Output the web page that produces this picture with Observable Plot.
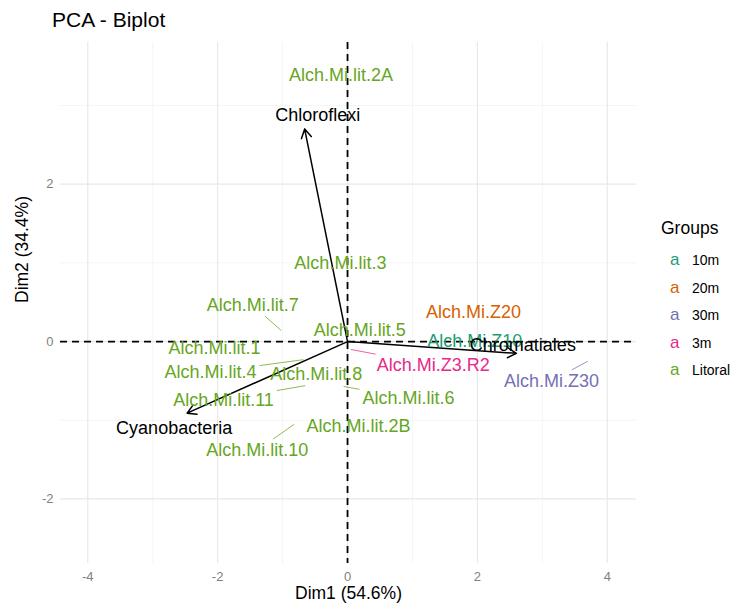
<!DOCTYPE html>
<html>
<head>
<meta charset="utf-8">
<script src="https://cdn.jsdelivr.net/npm/d3@7"></script>
<script src="https://cdn.jsdelivr.net/npm/@observablehq/plot@0.6"></script>
<style>
  body { margin: 0; background: #fff; font-family: "Liberation Sans", Arial, sans-serif; }
  #wrap { position: relative; width: 732px; height: 608px; overflow: hidden; }
  #title { height: 40px; line-height: 40px; padding-left: 52px; font-size: 21px; color: #000; box-sizing: border-box; }
  .leg { position: absolute; white-space: nowrap; transform: translateY(-50%); }
</style>
</head>
<body>
<div id="wrap">
  <div id="title">PCA - Biplot</div>
  <div id="chart"></div>
</div>
<script>
// ---- data ----
const samples = ["Alch.Mi.lit.2A","Alch.Mi.lit.3","Alch.Mi.lit.7","Alch.Mi.lit.5","Alch.Mi.lit.1","Alch.Mi.lit.4","Alch.Mi.lit.8","Alch.Mi.lit.11","Alch.Mi.lit.6","Alch.Mi.lit.2B","Alch.Mi.lit.10","Alch.Mi.Z20","Alch.Mi.Z10","Alch.Mi.Z3.R2","Alch.Mi.Z30"];
const sampleGroup = ["Litoral","Litoral","Litoral","Litoral","Litoral","Litoral","Litoral","Litoral","Litoral","Litoral","Litoral","20m","10m","3m","30m"];
const dim1 = [-0.10,-0.11,-1.02,0.19,-2.05,-0.68,-0.48,-0.65,-0.06,0.17,-0.82,1.94,1.17,0.05,3.70];
const dim2 = [3.39,1.00,0.14,0.15,-0.09,-0.23,-0.41,-0.56,-0.57,-1.07,-1.05,0.37,-0.10,-0.10,-0.25];
const labelDim1 = [-0.10,-0.11,-1.46,0.19,-2.05,-2.11,-0.48,-1.91,0.94,0.17,-1.39,1.94,1.96,1.32,3.14];
const labelDim2 = [3.39,1.00,0.46,0.15,-0.09,-0.39,-0.41,-0.74,-0.72,-1.07,-1.38,0.37,0.01,-0.30,-0.50];

const variables = ["Chloroflexi","Cyanobacteria","Chromatiales"];
const varDim1 = [-0.66,-2.47,2.60];
const varDim2 = [2.70,-0.91,-0.15];
const varLabelDim1 = [-0.46,-2.67,2.70];
const varLabelDim2 = [2.87,-1.10,-0.05];

const groupNames = ["10m","20m","30m","3m","Litoral"];
const groupColors = ["#1B9E77","#D95F02","#7570B3","#E7298A","#66A61E"];

const xTicks = [-4,-2,0,2,4];
const xMinor = [-3,-1,1,3];
const yTicks = [-2,0,2];
const yMinor = [-1,1,3];
const xTitle = "Dim1 (54.6%)";
const yTitle = "Dim2 (34.4%)";
const legendTitle = "Groups";

// ---- layout ----
const W = 732, H = 568;
const mL = 60, mR = 96, mT = 2, mB = 45;
const xDomain = [-4.42, 4.45];
const yDomain = [-2.82, 3.80];
const kx = (W - mL - mR) / (xDomain[1] - xDomain[0]);
const ky = (H - mT - mB) / (yDomain[1] - yDomain[0]);
const labelFont = "18px 'Liberation Sans'";
const fmt = d => String(d);

const ctx = document.createElement("canvas").getContext("2d");
ctx.font = labelFont;

const rows = samples.map((s, i) => ({name: s, group: sampleGroup[i], x: dim1[i], y: dim2[i], lx: labelDim1[i], ly: labelDim2[i]}));

// ggrepel-like segments from label box edge to point
const segs = [];
rows.forEach(r => {
  const hw = ctx.measureText(r.name).width / 2 + 3;
  const hh = 11;
  const dxp = (r.x - r.lx) * kx, dyp = (r.y - r.ly) * ky;
  const len = Math.hypot(dxp, dyp);
  if (len === 0) return;
  const t = Math.min(dxp === 0 ? Infinity : hw / Math.abs(dxp), dyp === 0 ? Infinity : hh / Math.abs(dyp));
  if (t < 1 && (1 - t) * len > 5) {
    segs.push({group: r.group, x1: r.lx + t * (r.x - r.lx), y1: r.ly + t * (r.y - r.ly), x2: r.x, y2: r.y});
  }
});

const vars = variables.map((v, i) => ({name: v, x: varDim1[i], y: varDim2[i], lx: varLabelDim1[i], ly: varLabelDim2[i]}));

const chart = Plot.plot({
  width: W, height: H,
  marginLeft: mL, marginRight: mR, marginTop: mT, marginBottom: mB,
  style: {fontFamily: "'Liberation Sans', Arial, sans-serif", background: "#fff"},
  x: {domain: xDomain},
  y: {domain: yDomain},
  color: {domain: groupNames, range: groupColors},
  marks: [
    Plot.gridX(xMinor, {stroke: "#f2f2f2", strokeOpacity: 1, strokeWidth: 0.8}),
    Plot.gridY(yMinor, {stroke: "#f2f2f2", strokeOpacity: 1, strokeWidth: 0.8}),
    Plot.gridX(xTicks, {stroke: "#e8e8e8", strokeOpacity: 1, strokeWidth: 1.2}),
    Plot.gridY(yTicks, {stroke: "#e8e8e8", strokeOpacity: 1, strokeWidth: 1.2}),
    Plot.axisX(xTicks, {tickSize: 0, tickPadding: 8, fontSize: 13, fill: "#7f7f7f", label: null, tickFormat: fmt}),
    Plot.axisY(yTicks, {tickSize: 0, tickPadding: 7, fontSize: 13, fill: "#7f7f7f", label: null, tickFormat: fmt}),
    Plot.text([xTitle], {frameAnchor: "bottom", dy: 35, fontSize: 17.5, fill: "#000"}),
    Plot.text([yTitle], {frameAnchor: "left", dx: -38, rotate: -90, fontSize: 17.5, fill: "#000"}),
    Plot.ruleX([0], {stroke: "#000", strokeWidth: 1.8, strokeDasharray: "7,5"}),
    Plot.ruleY([0], {stroke: "#000", strokeWidth: 1.8, strokeDasharray: "7,5"}),
    Plot.link(segs, {x1: "x1", y1: "y1", x2: "x2", y2: "y2", stroke: "group", strokeWidth: 1, strokeOpacity: 0.75}),
    Plot.arrow(vars, {x1: () => 0, y1: () => 0, x2: "x", y2: "y", stroke: "#000", strokeWidth: 1.5, headLength: 10, headAngle: 60}),
    Plot.text(rows, {x: "lx", y: "ly", text: "name", fill: "group", fontSize: 18}),
    Plot.text(vars, {x: "lx", y: "ly", text: "name", fill: "#000", fontSize: 18})
  ]
});
document.getElementById("chart").appendChild(chart);

// ---- legend (HTML) ----
const wrap = document.getElementById("wrap");
const lt = document.createElement("div");
lt.className = "leg";
lt.style.cssText = "left:661px;top:228px;font-size:17.5px;color:#000";
lt.textContent = legendTitle;
wrap.appendChild(lt);
groupNames.forEach((g, i) => {
  const y = 260 + i * 27.6;
  const key = document.createElement("div");
  key.className = "leg";
  key.style.cssText = `left:670px;top:${y}px;font-size:17px;color:${groupColors[i]}`;
  key.textContent = "a";
  wrap.appendChild(key);
  const lab = document.createElement("div");
  lab.className = "leg";
  lab.style.cssText = `left:692px;top:${y}px;font-size:14px;color:#000`;
  lab.textContent = g;
  wrap.appendChild(lab);
});
</script>
</body>
</html>
